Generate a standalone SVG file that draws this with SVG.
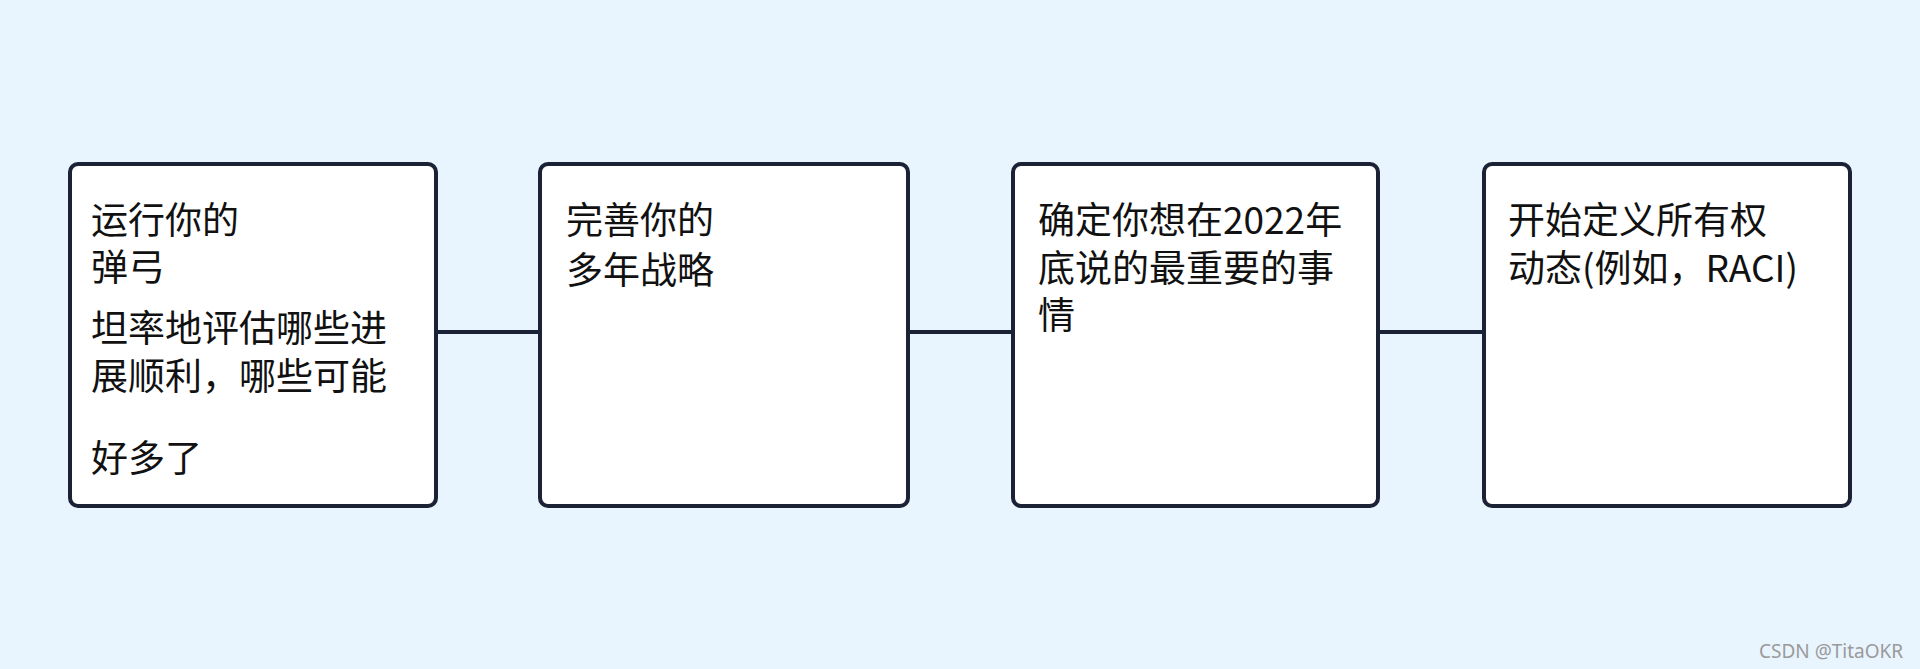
<svg xmlns="http://www.w3.org/2000/svg" width="1920" height="669" viewBox="0 0 1920 669">
<style>
.box{fill:#ffffff;stroke:#1b2235;stroke-width:4}
.t{font-family:"Noto Sans CJK SC","Noto Sans",sans-serif;font-size:37px;fill:#111111}
.conn{stroke:#1b2235;stroke-width:4;fill:none}
.wm{font-family:"Noto Sans","Liberation Sans",sans-serif;font-size:19px;fill:#9a9a9a}
</style>
<rect width="1920" height="669" fill="#e8f4fe"/>
<g id="connectors">
<line class="conn" x1="436" y1="332" x2="540" y2="332"/>
<line class="conn" x1="908" y1="332" x2="1013" y2="332"/>
<line class="conn" x1="1378" y1="332" x2="1484" y2="332"/>
</g>
<g id="node1">
<rect class="box" x="70" y="164" width="366" height="342" rx="8"/>
<text class="t" x="91" y="234">运行你的</text>
<text class="t" x="91" y="281">弹弓</text>
<text class="t" x="91" y="342">坦率地评估哪些进</text>
<text class="t" x="91" y="390">展顺利，哪些可能</text>
<text class="t" x="91" y="472">好多了</text>
</g>
<g id="node2">
<rect class="box" x="540" y="164" width="368" height="342" rx="8"/>
<text class="t" x="566" y="234">完善你的</text>
<text class="t" x="566" y="284">多年战略</text>
</g>
<g id="node3">
<rect class="box" x="1013" y="164" width="365" height="342" rx="8"/>
<text class="t" x="1038" y="234">确定你想在2022年</text>
<text class="t" x="1038" y="282">底说的最重要的事</text>
<text class="t" x="1038" y="329">情</text>
</g>
<g id="node4">
<rect class="box" x="1484" y="164" width="366" height="342" rx="8"/>
<text class="t" x="1508" y="234">开始定义所有权</text>
<text class="t" x="1508" y="282">动态(例如，RACI)</text>
</g>
<text class="wm" x="1759" y="658">CSDN @TitaOKR</text>
</svg>
